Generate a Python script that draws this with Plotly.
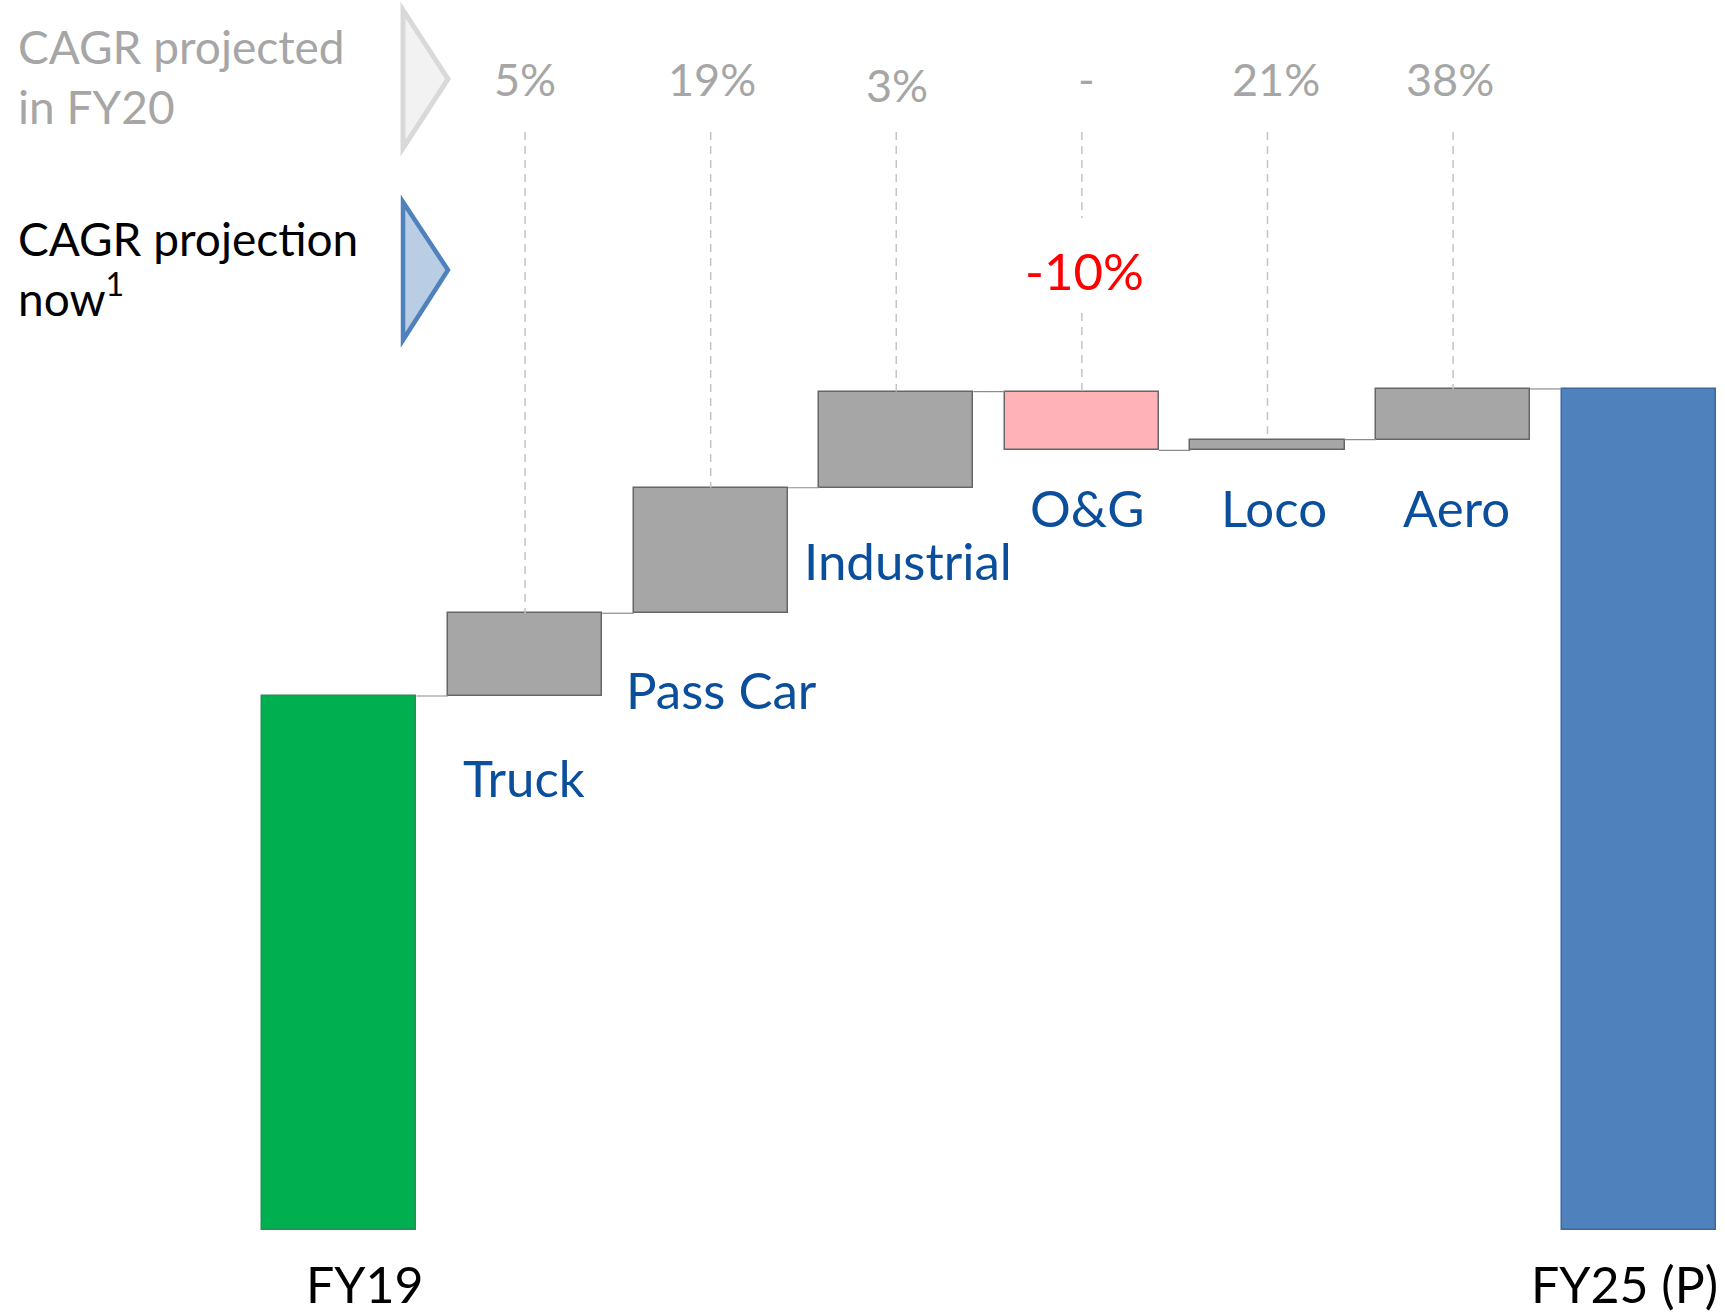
import numpy as np
import plotly.graph_objects as go

# ---- data -------------------------------------------------------------
categories = ["FY19", "Truck", "Pass Car", "Industrial", "O&G", "Loco", "Aero", "FY25 (P)"]
segments = ["Truck", "Pass Car", "Industrial", "O&G", "Loco", "Aero"]
start_value = 100.0                                   # FY19 revenue (index)
segment_change = [15.5, 23.5, 18.0, -11.0, 2.0, 9.5]  # contribution by segment
cagr_fy20 = ["5%", "19%", "3%", "-", "21%", "38%"]    # CAGR projected in FY20
cagr_now = [None, None, None, "-10%", None, None]     # revised CAGR projection

# ---- waterfall geometry -------------------------------------------------
running = start_value + np.cumsum(segment_change)
end_value = running[-1]
prev = np.concatenate([[start_value], running[:-1]])

bases = [0.0] + [float(min(p, r)) for p, r in zip(prev, running)] + [0.0]
heights = [start_value] + [abs(c) for c in segment_change] + [float(end_value)]
tops = [b + h for b, h in zip(bases, heights)]
levels = [start_value] + list(running)  # running total after each bar

GREEN, BLUE, GREY, PINK = "#00b050", "#4f81bd", "#a6a6a6", "#ffb3b8"
fills = [GREEN] + [PINK if c < 0 else GREY for c in segment_change] + [BLUE]
edges = ["#2e8b57"] + ["#666666"] * len(segments) + ["#3a679e"]

W, H = 1725, 1313
BAR_W = 0.83
FONT = "Lato, 'Open Sans', sans-serif"
LABEL_BLUE = "#0b4f9c"
LIGHT = "#a6a6a6"

# y-axis: value 0 sits 83px above the bottom edge, 5.34px per unit
Y_PER_PX = 1 / 5.34
y_lo = -(H - 1230) * Y_PER_PX
y_hi = 1230 * Y_PER_PX
x_lo, x_hi = -1.829, 7.465


def row(py):
    """Pixel row (from the top) to paper y."""
    return 1 - py / H


def row_val(py):
    """Pixel row (from the top) to a y-axis value."""
    return y_lo + (H - py) * Y_PER_PX


fig = go.Figure()
fig.add_trace(go.Bar(
    x=categories, y=heights, base=bases, width=BAR_W,
    marker=dict(color=fills, line=dict(color=edges, width=1.5)),
    hoverinfo="skip", showlegend=False,
))

shapes = []
# connectors between consecutive bars
for i, lvl in enumerate(levels):
    shapes.append(dict(type="line", xref="x", yref="y",
                       x0=i + BAR_W / 2, x1=i + 1 - BAR_W / 2, y0=lvl, y1=lvl,
                       line=dict(color="#8c8c8c", width=1.2)))

# dashed guides from the CAGR row down to each segment bar
dash = dict(color="#c4c4c4", width=1.5, dash="8px,6px")
for k, seg in enumerate(segments):
    i = k + 1
    top = tops[i]
    if cagr_now[k]:
        shapes.append(dict(type="line", xref="x", yref="y", x0=i, x1=i,
                           y0=row_val(132), y1=row_val(218), line=dash))
        shapes.append(dict(type="line", xref="x", yref="y", x0=i, x1=i,
                           y0=row_val(313), y1=top, line=dash))
    else:
        shapes.append(dict(type="line", xref="x", yref="y", x0=i, x1=i,
                           y0=row_val(132), y1=top, line=dash))

# row markers (chevrons)
def tri(x0, x1, ytop, ymid, ybot):
    return (f"M {x0 / W} {row(ytop)} L {x1 / W} {row(ymid)} "
            f"L {x0 / W} {row(ybot)} Z")

shapes.append(dict(type="path", xref="paper", yref="paper",
                   path=tri(403, 448, 10, 79, 148),
                   fillcolor="#f2f2f2", line=dict(color="#d9d9d9", width=5)))
shapes.append(dict(type="path", xref="paper", yref="paper",
                   path=tri(403, 448, 202, 270, 340),
                   fillcolor="#b9cde5", line=dict(color="#4f81bd", width=4.5)))

ann = []
# row headings
ann.append(dict(x=16 / W, y=row(77), xref="paper", yref="paper",
                xanchor="left", yanchor="middle", align="left",
                text="CAGR projected<br>in FY20", showarrow=False,
                font=dict(family=FONT, size=46, color=LIGHT)))
ann.append(dict(x=16 / W, y=row(268), xref="paper", yref="paper",
                xanchor="left", yanchor="middle", align="left",
                text="CAGR projection<br>now<sup>1</sup>", showarrow=False,
                font=dict(family=FONT, size=46, color="#000000")))

# CAGR values
pct_rows = [79, 79, 85, 79, 79, 79]
pct_shift = [0, 1, 1, 5, 9, -3]
for k, seg in enumerate(segments):
    ann.append(dict(x=seg, y=row(pct_rows[k]), xref="x", yref="paper",
                    xshift=pct_shift[k], yanchor="middle",
                    text=cagr_fy20[k], showarrow=False,
                    font=dict(family=FONT, size=45, color=LIGHT)))
    if cagr_now[k]:
        ann.append(dict(x=seg, y=row(270), xref="x", yref="paper",
                        xshift=3, yanchor="middle",
                        text=cagr_now[k], showarrow=False,
                        font=dict(family=FONT, size=51, color="#ff0000")))

# segment names beneath their bars
name_rows = [777, 689, 560, 507, 507, 507]
name_shift = [-1, 11, 12, 5, 7, 3]
for k, seg in enumerate(segments):
    ann.append(dict(x=seg, y=row(name_rows[k]), xref="x", yref="paper",
                    xshift=name_shift[k], yanchor="middle",
                    text=seg, showarrow=False,
                    font=dict(family=FONT, size=51, color=LABEL_BLUE)))

# start / end labels
ann.append(dict(x=categories[0], y=row(1284), xref="x", yref="paper",
                xshift=25, yanchor="middle", text=categories[0], showarrow=False,
                font=dict(family=FONT, size=50, color="#000000")))
ann.append(dict(x=categories[-1], y=row(1284), xref="x", yref="paper",
                xshift=-14, yanchor="middle", text=categories[-1], showarrow=False,
                font=dict(family=FONT, size=50, color="#000000")))

fig.update_layout(
    width=W, height=H,
    margin=dict(l=0, r=0, t=0, b=0),
    paper_bgcolor="white", plot_bgcolor="white",
    bargap=0,
    xaxis=dict(range=[x_lo, x_hi], visible=False, fixedrange=True),
    yaxis=dict(range=[y_lo, y_hi], visible=False, fixedrange=True),
    shapes=shapes, annotations=ann,
)

fig.write_html("out.html")
